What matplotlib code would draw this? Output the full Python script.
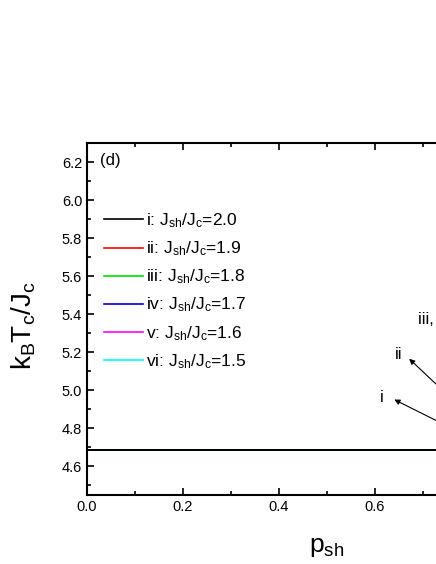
import matplotlib
matplotlib.use("Agg")
import matplotlib.pyplot as plt
from matplotlib.ticker import MultipleLocator

plt.rcParams['font.family'] = ['Liberation Sans', 'DejaVu Sans']
plt.rcParams['mathtext.fontset'] = 'custom'
plt.rcParams['mathtext.rm'] = 'Liberation Sans'
plt.rcParams['mathtext.it'] = 'Liberation Sans'

# data (visible part of the curves)
p_sh = [0.0, 0.1, 0.2, 0.3, 0.4, 0.5, 0.6, 0.7, 0.75]
tc_i = [4.685, 4.685, 4.685, 4.685, 4.685, 4.685, 4.685, 4.685, 4.685]
tc_ii = [4.685, 4.685, 4.685, 4.685, 4.685, 4.685, 4.685, 4.685, 4.685]
tc_iii = [4.685, 4.685, 4.685, 4.685, 4.685, 4.685, 4.685, 4.685, 4.685]
tc_iv = [4.685, 4.685, 4.685, 4.685, 4.685, 4.685, 4.685, 4.685, 4.685]
tc_v = [4.685, 4.685, 4.685, 4.685, 4.685, 4.685, 4.685, 4.685, 4.685]
tc_vi = [4.685, 4.685, 4.685, 4.685, 4.685, 4.685, 4.685, 4.685, 4.685]
labels = [r'i: J$_{\mathregular{sh}}$/J$_{\mathregular{c}}$=2.0',
          r'ii: J$_{\mathregular{sh}}$/J$_{\mathregular{c}}$=1.9',
          r'iii: J$_{\mathregular{sh}}$/J$_{\mathregular{c}}$=1.8',
          r'iv: J$_{\mathregular{sh}}$/J$_{\mathregular{c}}$=1.7',
          r'v: J$_{\mathregular{sh}}$/J$_{\mathregular{c}}$=1.6',
          r'vi: J$_{\mathregular{sh}}$/J$_{\mathregular{c}}$=1.5']
colors = ['black', 'red', '#00dd00', '#0000cc', '#ff00ff', '#00ffff']

fig = plt.figure(figsize=(4.36, 5.64), dpi=100)
ax = fig.add_axes([87/436, 1-495/564, 480/436, 352/564])

series = [tc_i, tc_ii, tc_iii, tc_iv, tc_v, tc_vi]
handles = []
for s, c, l in zip(series, colors, labels):
    h, = ax.plot(p_sh, s, color=c, lw=1.2, label=l)
    handles.append(h)
# draw black on top
ax.plot(p_sh, tc_i, color='black', lw=1.4, zorder=5)

ax.set_xlim(0, 1.0)
ax.set_ylim(4.45, 6.3)
ax.xaxis.set_major_locator(MultipleLocator(0.2))
ax.xaxis.set_minor_locator(MultipleLocator(0.1))
ax.yaxis.set_major_locator(MultipleLocator(0.2))
ax.yaxis.set_minor_locator(MultipleLocator(0.1))
ax.tick_params(which='both', direction='in', top=True, right=True, width=1.2, labelsize=10.5)
ax.tick_params(which='major', length=5)
ax.tick_params(which='minor', length=3)
ax.xaxis.set_major_formatter(plt.FuncFormatter(lambda v, p: f'{v:.1f}'))
ax.yaxis.set_major_formatter(plt.FuncFormatter(lambda v, p: f'{v:.1f}'))
for sp in ax.spines.values():
    sp.set_linewidth(1.5)

ax.text(0.027, 0.95, '(d)', transform=ax.transAxes, fontsize=12, va='center', ha='left')

leg = ax.legend(handles=handles, loc='upper left', bbox_to_anchor=(0.02, 0.825),
                frameon=False, fontsize=12.5, handlelength=2.3, handletextpad=0.15,
                labelspacing=0.54, borderaxespad=0)

ax.set_xlabel(r'p$_{\mathregular{sh}}$', fontsize=19)
ax.xaxis.set_label_coords(0.5, -0.115)
ax.set_ylabel(r'k$_{\mathregular{B}}$T$_{\mathregular{c}}$/J$_{\mathregular{c}}$', fontsize=20)
ax.yaxis.set_label_coords(-0.102, 0.48)

# annotations
ax.annotate('', xy=(0.635, 4.958), xytext=(0.80, 4.75),
            arrowprops=dict(arrowstyle='-|>', color='black', lw=0.8, mutation_scale=8))
ax.text(0.615, 4.963, 'i', fontsize=12, ha='center', va='center')
ax.annotate('', xy=(0.667, 5.176), xytext=(0.80, 4.86),
            arrowprops=dict(arrowstyle='-|>', color='black', lw=0.8, mutation_scale=8))
ax.text(0.65, 5.19, 'ii', fontsize=12, ha='center', va='center')
ax.text(0.690, 5.37, 'iii, iv, v, vi', fontsize=12, ha='left', va='center')

fig.savefig('out.png', dpi=100)
